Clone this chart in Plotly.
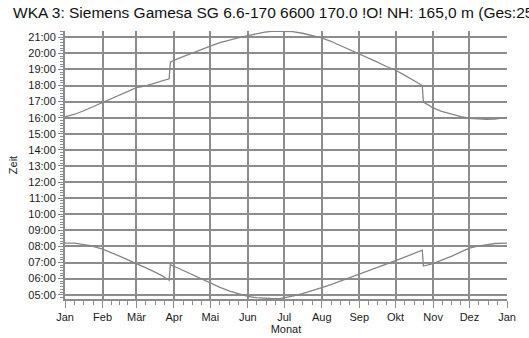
import plotly.graph_objects as go

# Month grid (day of year at the start of each month, plus year end)
month_labels = ["Jan", "Feb", "Mär", "Apr", "Mai", "Jun", "Jul", "Aug",
                "Sep", "Okt", "Nov", "Dez", "Jan"]
month_starts = [0, 31, 59, 90, 120, 151, 181, 212, 243, 273, 304, 334, 365]

# Sunset (local clock time, CET/CEST) by day of year
sunset_days = [0, 8, 15, 23, 31, 38, 45, 52, 59, 66, 73, 80, 86, 87, 90, 97,
               104, 111, 120, 128, 136, 143, 151, 158, 165, 172, 178, 184, 188,
               196, 204, 212, 219, 227, 235, 243, 250, 258, 265, 273, 280, 288,
               295, 296, 304, 311, 319, 327, 334, 341, 348, 355, 365]
sunset_times = ["16:03", "16:13", "16:25", "16:41", "16:59", "17:13", "17:27",
                "17:40", "17:52", "17:58", "18:08", "18:17", "18:25", "19:27",
                "19:34", "19:47", "20:00", "20:12", "20:27", "20:40", "20:51",
                "20:58", "21:06", "21:13", "21:19", "21:23", "21:23", "21:23",
                "21:21", "21:15", "21:07", "20:58", "20:46", "20:30", "20:16",
                "19:59", "19:44", "19:27", "19:12", "18:57", "18:40", "18:18",
                "18:00", "16:58", "16:37", "16:24", "16:13", "16:04", "15:58",
                "15:55", "15:54", "15:55", "16:01"]

# Sunrise (local clock time, CET/CEST) by day of year
sunrise_days = [0, 8, 13, 21, 31, 38, 45, 52, 59, 66, 73, 80, 86, 87, 90, 97,
                104, 111, 120, 128, 136, 143, 151, 158, 165, 172, 178, 181, 188,
                196, 204, 212, 219, 227, 235, 243, 250, 258, 265, 273, 280, 288,
                295, 296, 304, 311, 319, 327, 334, 341, 348, 355, 365]
sunrise_times = ["08:12", "08:12", "08:09", "08:03", "07:50", "07:38", "07:24",
                 "07:10", "06:57", "06:42", "06:27", "06:11", "05:54", "06:52",
                 "06:46", "06:31", "06:16", "06:01", "05:42", "05:27", "05:13",
                 "05:03", "04:54", "04:49", "04:46", "04:45", "04:46", "04:48",
                 "04:55", "05:04", "05:14", "05:26", "05:37", "05:50", "06:03",
                 "06:16", "06:28", "06:41", "06:53", "07:07", "07:19", "07:33",
                 "07:46", "06:47", "06:56", "07:09", "07:23", "07:40", "07:54",
                 "08:01", "08:07", "08:11", "08:12"]

hour_ticks = list(range(5, 22))
hour_labels = [f"{h:02d}:00" for h in hour_ticks]


def to_hours(t):
    h, m = t.split(":")
    return int(h) + int(m) / 60


grid_col = "#8c8c8c"
line_col = "#858585"
font_family = "Liberation Sans, Arial, sans-serif"

fig = go.Figure()
fig.add_trace(go.Scatter(x=sunset_days, y=[to_hours(t) for t in sunset_times],
                         mode="lines", line=dict(color=line_col, width=1.3),
                         hoverinfo="skip", showlegend=False))
fig.add_trace(go.Scatter(x=sunrise_days, y=[to_hours(t) for t in sunrise_times],
                         mode="lines", line=dict(color=line_col, width=1.3),
                         hoverinfo="skip", showlegend=False))

# quarter-month minor ticks on the time axis
minor_x = []
for a, b in zip(month_starts[:-1], month_starts[1:]):
    minor_x += [a + (b - a) * k / 4 for k in (1, 2, 3)]

fig.update_layout(
    width=529, height=338,
    margin=dict(l=65, r=22, t=31, b=39, pad=0),
    paper_bgcolor="white", plot_bgcolor="white",
    font=dict(family=font_family, size=11, color="#1a1a1a"),
    title=dict(text="WKA 3: Siemens Gamesa SG 6.6-170 6600 170.0 !O! NH: 165,0 m (Ges:250,0 m)",
               x=13 / 529, xanchor="left", xref="container",
               y=1 - 13 / 338, yanchor="middle", yref="container",
               font=dict(size=15.5, family=font_family, color="#111")),
    xaxis=dict(
        range=[0, 365], tickmode="array", tickvals=month_starts,
        ticktext=month_labels, showgrid=False,
        showline=True, linecolor=grid_col, linewidth=2,
        ticks="outside", ticklen=7, tickcolor=grid_col, tickwidth=1,
        zeroline=False,
        minor=dict(tickmode="array", tickvals=minor_x, ticks="outside",
                   ticklen=4, tickcolor=grid_col, tickwidth=1, showgrid=False),
        title=dict(text="Monat", standoff=2, font=dict(size=11)),
        automargin=False, fixedrange=True,
    ),
    # month gridlines (the year-end boundary has no gridline)
    xaxis2=dict(
        overlaying="x", matches="x", range=[0, 365], tickmode="array",
        tickvals=month_starts[:-1], showgrid=True, gridcolor=grid_col,
        gridwidth=2, showticklabels=False, ticks="", showline=False,
        zeroline=False, automargin=False, fixedrange=True,
    ),
    yaxis=dict(
        range=[4.733, 21.39], tickmode="array", tickvals=hour_ticks,
        ticktext=hour_labels, showgrid=True, gridcolor=grid_col, gridwidth=2,
        showline=True, linecolor=grid_col, linewidth=2,
        ticks="outside", ticklen=5, tickcolor=grid_col, tickwidth=1,
        zeroline=False,
        minor=dict(dtick=1 / 6, tick0=5, ticks="outside", ticklen=3,
                   tickcolor=grid_col, tickwidth=1, showgrid=False),
        title=dict(text="Zeit", standoff=8, font=dict(size=11)),
        automargin=False, fixedrange=True,
    ),
)
# an invisible trace anchors the grid axis
fig.add_trace(go.Scatter(x=[0], y=[5], xaxis="x2", mode="markers",
                         marker=dict(opacity=0), hoverinfo="skip",
                         showlegend=False))

fig.write_html("out.html")
